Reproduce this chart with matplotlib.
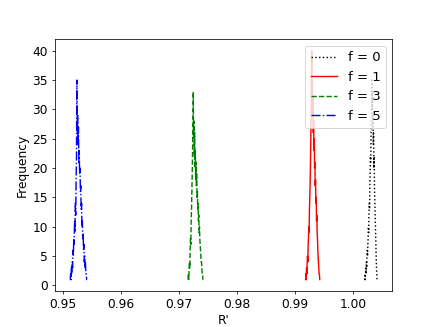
import numpy as np
import matplotlib
matplotlib.use('Agg')
import matplotlib.pyplot as plt

# histogram counts of R' for each f
labels = ['f = 0', 'f = 1', 'f = 3', 'f = 5']
ranges = [(1.00200, 1.00418), (0.99186, 0.99430), (0.97160, 0.97422), (0.95122, 0.95418)]

counts_f0 = [1, 1, 2, 1, 2, 3, 2, 4, 3, 5, 6, 5, 7, 8, 10, 9, 12, 14, 13, 17,
             19, 22, 21, 25, 28, 31, 35, 30, 33, 27, 29, 24, 26, 20, 22, 17, 15, 13, 11, 9,
             7, 5, 3, 2, 1]
counts_f1 = [1, 2, 1, 3, 2, 4, 5, 4, 7, 8, 10, 9, 13, 15, 17, 20, 24, 28, 33, 40,
             31, 35, 29, 32, 26, 28, 23, 25, 20, 21, 17, 18, 14, 15, 11, 12, 9, 8, 6, 5,
             4, 3, 2, 2, 1]
counts_f3 = [1, 2, 1, 3, 4, 3, 6, 8, 7, 11, 13, 16, 19, 23, 27, 33, 25, 28, 22, 26,
             20, 23, 18, 21, 17, 19, 15, 16, 13, 14, 11, 12, 9, 10, 8, 7, 6, 5, 4, 4,
             3, 2, 2, 1, 1]
counts_f5 = [1, 1, 2, 1, 3, 2, 4, 3, 6, 5, 8, 7, 11, 9, 14, 12, 18, 22, 35, 26,
             29, 24, 27, 21, 23, 19, 20, 16, 17, 13, 14, 10, 11, 8, 9, 6, 7, 4, 5, 3,
             4, 2, 2, 1, 1]

all_counts = [counts_f0, counts_f1, counts_f3, counts_f5]
styles = [('k', ':'), ('r', '-'), ('g', '--'), ('b', '-.')]

plt.rcParams['font.size'] = 13
plt.figure(figsize=(436 / 68, 327 / 68), dpi=68)
for (lo, hi), c, (col, ls), lab in zip(ranges, all_counts, styles, labels):
    bins = np.linspace(lo, hi, len(c))
    plt.plot(bins, c, color=col, linestyle=ls, label=lab)

plt.xlabel("R'")
plt.ylabel('Frequency')
plt.legend(loc='upper right', fontsize=14)
plt.savefig('out.png', dpi=68)
